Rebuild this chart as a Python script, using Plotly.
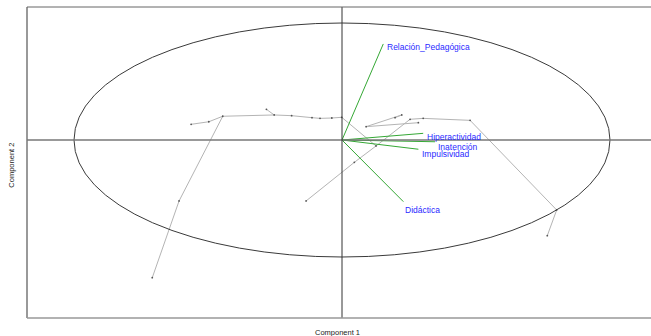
import plotly.graph_objects as go

# Observation scores on the first two components (scaled to the unit circle)
node_x = [-0.563, -0.497, -0.445, -0.253, -0.282, -0.188, -0.112, -0.082, -0.038, -0.001,
          -0.608, -0.708, -0.134, 0.046, 0.127, 0.223, 0.198, 0.090, 0.254, 0.303,
          0.478, 0.801, 0.766, 0.285]
node_y = [0.134, 0.156, 0.203, 0.214, 0.262, 0.208, 0.191, 0.185, 0.188, 0.194,
          -0.521, -1.177, -0.521, -0.191, -0.051, 0.214, 0.191, 0.114, 0.177, 0.185,
          0.168, -0.598, -0.818, 0.148]

# Minimum spanning tree links between observations (node index pairs)
tree_edges = [(0, 1), (1, 2), (2, 3), (3, 4), (3, 5), (5, 6), (6, 7), (7, 8), (8, 9),
              (2, 10), (10, 11), (9, 14), (12, 13), (13, 14), (14, 18), (15, 16),
              (17, 15), (17, 23), (18, 19), (19, 20), (20, 21), (21, 22)]

# Variable loadings
var_names = ["Relación_Pedagógica", "Hiperactividad", "Inatención", "Impulsividad", "Didáctica"]
var_x = [0.154, 0.303, 0.347, 0.285, 0.229]
var_y = [0.821, 0.057, -0.015, -0.079, -0.527]
label_dx = [2, 2, 1, 2, 0]
label_dy = [-3, -4, -5, -5, -8]

X_RANGE = [-1.1754, 1.1530]
Y_RANGE = [-1.5214, 1.1368]

fig = go.Figure()

# tree links
ex, ey = [], []
for a, b in tree_edges:
    ex += [node_x[a], node_x[b], None]
    ey += [node_y[a], node_y[b], None]
fig.add_trace(go.Scatter(x=ex, y=ey, mode="lines",
                         line=dict(color="#b4b4b4", width=1), hoverinfo="skip"))
fig.add_trace(go.Scatter(x=node_x, y=node_y, mode="markers",
                         marker=dict(color="#555555", size=1.8), hoverinfo="skip"))

# loading vectors
vx, vy = [], []
for x, y in zip(var_x, var_y):
    vx += [0, x, None]
    vy += [0, y, None]
fig.add_trace(go.Scatter(x=vx, y=vy, mode="lines",
                         line=dict(color="#35a835", width=1), hoverinfo="skip"))

annotations = []
for name, x, y, dx, dy in zip(var_names, var_x, var_y, label_dx, label_dy):
    annotations.append(dict(x=x, y=y, xref="x", yref="y", text=name, showarrow=False,
                            xanchor="left", yanchor="middle", xshift=dx, yshift=dy,
                            font=dict(family="Liberation Sans, Arial", size=8.5, color="#2a2aff")))

annotations.append(dict(x=0.497, y=0, xref="paper", yref="paper", yanchor="middle",
                        yshift=-14, text="Component 1", showarrow=False,
                        font=dict(family="Liberation Sans, Arial", size=7.5, color="#222222")))
annotations.append(dict(x=-0.024, y=0.49, xref="paper", yref="paper", xanchor="center",
                        text="Component 2", showarrow=False, textangle=-90,
                        font=dict(family="Liberation Sans, Arial", size=7.5, color="#222222")))

shapes = [
    # unit circle
    dict(type="circle", xref="x", yref="y", x0=-1, x1=1, y0=-1, y1=1,
         line=dict(color="#3a3a3a", width=1)),
    # axes through origin
    dict(type="line", xref="paper", yref="y", x0=0, x1=1, y0=0, y1=0,
         line=dict(color="#777777", width=1.5)),
    dict(type="line", xref="x", yref="paper", x0=0, x1=0, y0=0, y1=1,
         line=dict(color="#333333", width=1)),
    # frame (left, top, bottom)
    dict(type="line", xref="paper", yref="paper", x0=0, x1=0, y0=0, y1=1,
         line=dict(color="#777777", width=1.5)),
    dict(type="line", xref="paper", yref="paper", x0=0, x1=1, y0=1, y1=1,
         line=dict(color="#666666", width=1)),
    dict(type="line", xref="paper", yref="paper", x0=0, x1=1, y0=0, y1=0,
         line=dict(color="#999999", width=1.5)),
]

fig.update_layout(
    width=651, height=336,
    margin=dict(l=27, r=0, t=7, b=18),
    paper_bgcolor="white", plot_bgcolor="white",
    showlegend=False,
    xaxis=dict(range=X_RANGE, showgrid=False, zeroline=False, showticklabels=False,
               ticks="", showline=False),
    yaxis=dict(range=Y_RANGE, showgrid=False, zeroline=False, showticklabels=False,
               ticks="", showline=False),
    shapes=shapes,
    annotations=annotations,
)

fig.write_html("out.html")
